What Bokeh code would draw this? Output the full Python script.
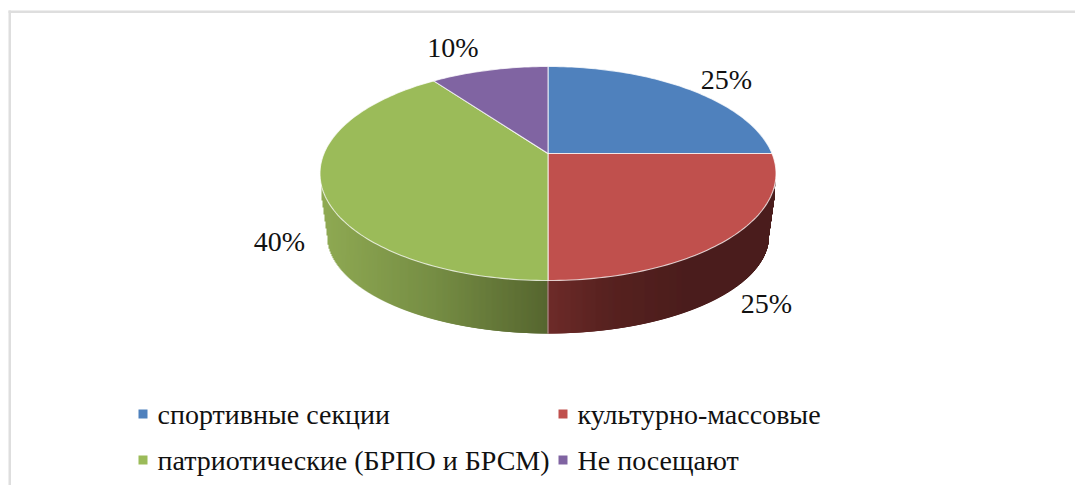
import math
from bokeh.plotting import figure
from bokeh.models import Range1d
from bokeh.core.properties import value
from bokeh.embed import file_html
from bokeh.resources import INLINE

categories = ["спортивные секции", "культурно-массовые", "патриотические (БРПО и БРСМ)", "Не посещают"]
shares = [25, 25, 40, 10]
colors = ["#4f81bd", "#c0504d", "#9bbb59", "#8064a2"]

FONT = value("Liberation Serif")
CX, CY = 547.5, 153.0
A, B, K = 224.0, 103.3, 0.187      # perspective projection of the pie disc
ELL_CY, ELL_RX, ELL_RY = 173.0, 228.0, 107.0
BOT_CY, BOT_RX, BOT_RY = 235.0, 221.0, 98.0

def project(theta):
    s, c = math.sin(theta), math.cos(theta)
    d = 1 + K * c
    return CX + A * s / d, CY - B * c / d

total = sum(shares)
edges = [0.0]
for v in shares:
    edges.append(edges[-1] + v / total * 2 * math.pi)

p = figure(width=1075, height=485, output_backend="svg", toolbar_location=None,
           x_range=Range1d(0, 1075), y_range=Range1d(485, 0), min_border=0,
           tools="", outline_line_color=None)
p.axis.visible = False
p.grid.visible = False
p.min_border_left = p.min_border_right = p.min_border_top = p.min_border_bottom = 0

# frame
p.quad(left=[8, 8], right=[1075, 10.5], top=[10, 10], bottom=[12.5, 485],
       fill_color="#dedede", line_color=None)

def lerp_stops(stops, t):
    for (t0, c0), (t1, c1) in zip(stops, stops[1:]):
        if t <= t1:
            f = (t - t0) / (t1 - t0)
            return "#%02x%02x%02x" % tuple(round(a + (b - a) * f) for a, b in zip(c0, c1))
    return "#%02x%02x%02x" % stops[-1][1]

green_stops = [(0.0, (143, 170, 83)), (0.5, (118, 141, 68)), (1.0, (86, 102, 47))]
red_stops = [(0.0, (110, 43, 41)), (0.25, (88, 34, 32)), (0.6, (75, 29, 28)), (1.0, (74, 29, 28))]

split_x = project(edges[2])[0]

def top_edge(x):
    u = min(1.0, abs(x - CX) / ELL_RX)
    return ELL_CY + ELL_RY * math.sqrt(1 - u * u)

def bottom_edge(x):
    dx = abs(x - CX)
    if dx <= BOT_RX:
        return BOT_CY + BOT_RY * math.sqrt(1 - (dx / BOT_RX) ** 2)
    f = (ELL_RX - dx) / (ELL_RX - BOT_RX)
    return 186 + (BOT_CY - 186) * f

lefts, rights, tops, bottoms, fills = [], [], [], [], []
x = CX + ELL_RX - 3
# painted right-to-left on the red side and left-to-right on the green side so that
# each column overlaps its neighbour and no white shows through
columns = []
xv = CX - ELL_RX + 1.5
while xv < CX + ELL_RX - 1:
    columns.append(xv)
    xv += 1
for x in columns:
    xm = x + 0.5
    if xm < split_x:
        lefts.append(x); rights.append(min(x + 2.5, split_x + 1))
        fills.append(lerp_stops(green_stops, (xm - (CX - ELL_RX)) / ELL_RX))
    else:
        lefts.append(x); rights.append(x + 1.0 if x + 1.0 > CX + ELL_RX - 2 else x + 2.5)
        fills.append(lerp_stops(red_stops, (xm - CX) / ELL_RX))
    tops.append(top_edge(xm) - 2); bottoms.append(bottom_edge(xm + (1 if xm > CX else 0)))
p.quad(left=lefts, right=rights, top=tops, bottom=bottoms, fill_color=fills, line_color=None)

# separator on the side wall
p.line(x=[split_x, split_x], y=[top_edge(split_x), bottom_edge(split_x)],
       line_color="#ffffff", line_alpha=0.55, line_width=1)

# top face
for i, col in enumerate(colors):
    n = max(6, int(shares[i] * 3))
    pts = [project(edges[i] + (edges[i + 1] - edges[i]) * j / n) for j in range(n + 1)]
    xs = [CX] + [q[0] for q in pts]
    ys = [CY] + [q[1] for q in pts]
    p.patch(x=xs, y=ys, fill_color=col, line_color="#ffffff", line_alpha=0.75, line_width=1.1,
            line_join="round")

# value labels
label_x = [726, 766, 279, 452.5]
label_y = [79, 302.5, 240.5, 47]
p.text(x=label_x, y=label_y, text=[f"{v}%" for v in shares], text_font=FONT,
       text_font_size="28px", text_color="#111111", text_align="center",
       text_baseline="alphabetic")

# legend
leg_x = [138, 558, 138, 558]
leg_y = [409, 409, 455, 455]
p.quad(left=leg_x, right=[v + 9 for v in leg_x], top=leg_y, bottom=[v + 9 for v in leg_y],
       fill_color=colors, line_color=None)
p.text(x=[v + 19 for v in leg_x], y=[v + 5 for v in leg_y], text=categories, text_font=FONT,
       text_font_size="28px", text_color="#111111", text_align="left", text_baseline="alphabetic")

open("out.html", "w").write(file_html(p, INLINE))
